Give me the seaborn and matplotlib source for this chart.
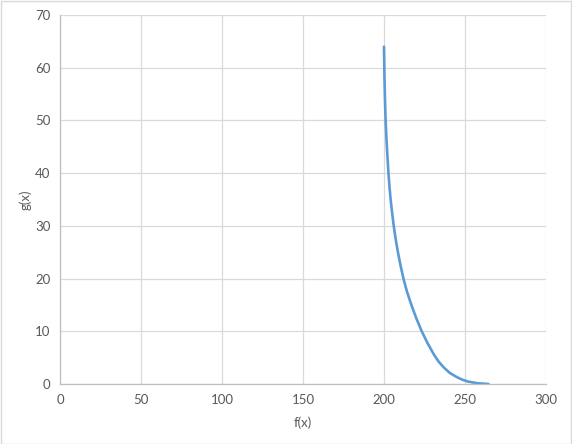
import numpy as np
import pandas as pd
import seaborn as sns
import matplotlib.pyplot as plt
from matplotlib.patches import Rectangle

# values
f_vals = [200.0, 200.3, 200.6, 201.0, 201.6, 202.15, 202.75, 203.5, 204.1, 205.0,
          206.0, 207.2, 208.6, 210.2, 212.0, 214.2, 216.9, 219.9, 223.3, 226.8,
          230.6, 233.6, 236.7, 240.6, 245.0, 248.5, 252.0, 257.5, 264.5]
g_vals = [64.0, 58.0, 54.0, 50.0, 46.0, 43.0, 40.0, 37.0, 35.0, 32.5,
          30.0, 27.5, 25.0, 22.5, 20.0, 17.5, 15.0, 12.5, 10.0, 7.8,
          5.7, 4.3, 3.2, 2.1, 1.3, 0.8, 0.45, 0.15, 0.0]
x_ticks = [0, 50, 100, 150, 200, 250, 300]
y_ticks = [0, 10, 20, 30, 40, 50, 60, 70]

df = pd.DataFrame({"f(x)": f_vals, "g(x)": g_vals})

sns.set_style("white")
plt.rcParams['font.family'] = ['Lato', 'DejaVu Sans']
grey = "#595959"

fig = plt.figure(figsize=(5.72, 4.44), dpi=100)
ax = fig.add_axes([60/572, 1 - 384/444, 486/572, 369/444])

sns.lineplot(data=df, x="f(x)", y="g(x)", sort=False, estimator=None,
             color="#5B9BD5", linewidth=1.9, ax=ax)

ax.set_xlim(0, 300)
ax.set_ylim(0, 70)
ax.set_xticks(x_ticks)
ax.set_yticks(y_ticks)
ax.grid(True, color="#D9D9D9", linewidth=0.9)
ax.set_axisbelow(True)
for s in ["top", "right"]:
    ax.spines[s].set_visible(False)
for s in ["left", "bottom"]:
    ax.spines[s].set_color("#BFBFBF")
    ax.spines[s].set_linewidth(0.9)
ax.tick_params(length=0, labelsize=9.5, labelcolor=grey, pad=7)
ax.set_xlabel("f(x)", fontsize=9.5, color=grey, labelpad=8)
ax.set_ylabel("g(x)", fontsize=9.5, color=grey, labelpad=2)

fig.patches.append(Rectangle((0.001, 0.001), 0.997, 0.997, transform=fig.transFigure,
                             fill=False, edgecolor="#D9D9D9", linewidth=1))

plt.savefig("out.png", dpi=100)
